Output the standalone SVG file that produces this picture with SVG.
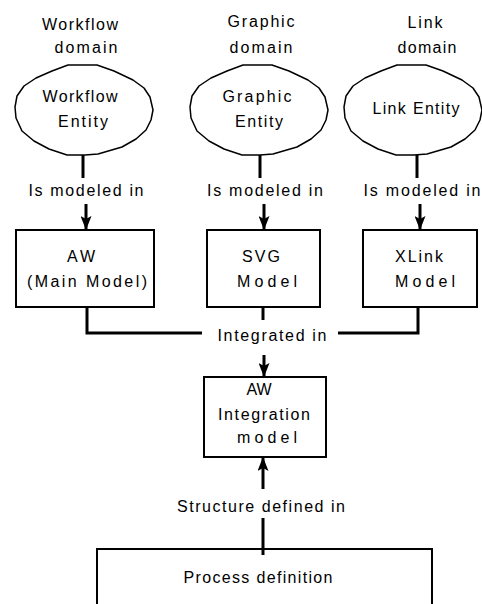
<svg xmlns="http://www.w3.org/2000/svg" width="482" height="604" viewBox="0 0 482 604">
<style>
text{font-family:"Liberation Sans",Arial,sans-serif;font-size:16px;fill:#000;text-anchor:middle}
.ent{fill:#fff;stroke:#000;stroke-width:1.5;stroke-linejoin:round}
.box{fill:#fff;stroke:#000;stroke-width:2}
.c{fill:none;stroke:#000;stroke-width:3}
</style>
<defs>
<marker id="ah" viewBox="0 0 14 11" refX="13" refY="5.5" markerWidth="14" markerHeight="11" orient="auto" markerUnits="userSpaceOnUse">
<path d="M0,0 L14,5.5 L0,11 L3,5.5 z" fill="#000"/>
</marker>
<path id="blob" d="M-16,-45 L13,-45 L30,-39 L49,-30 L60,-22 L66,-13 L69,0 L67,10 L62,20 L52,29 L38,37 L14,44 L1,45 L-17,45 L-35,39 L-50,31 L-62,21 L-68,8 L-69,-3 L-67,-14 L-60,-24 L-48,-32 L-32,-39 Z"/>
</defs>
<rect width="482" height="604" fill="#fff"/>
<g id="domain-workflow">
<text x="80" y="30" textLength="76" lengthAdjust="spacing">Workflow</text>
<text x="86" y="53" textLength="63" lengthAdjust="spacing">domain</text>
<use href="#blob" class="ent" x="84" y="110"/>
<text x="80" y="102" textLength="75" lengthAdjust="spacing">Workflow</text>
<text x="83" y="127" textLength="50" lengthAdjust="spacing">Entity</text>
</g>
<g id="domain-graphic">
<text x="261" y="27" textLength="67" lengthAdjust="spacing">Graphic</text>
<text x="261" y="53" textLength="63" lengthAdjust="spacing">domain</text>
<use href="#blob" class="ent" x="259" y="110"/>
<text x="257" y="102" textLength="69" lengthAdjust="spacing">Graphic</text>
<text x="259" y="127" textLength="48" lengthAdjust="spacing">Entity</text>
</g>
<g id="domain-link">
<text x="425" y="28" textLength="35" lengthAdjust="spacing">Link</text>
<text x="427" y="53" textLength="59" lengthAdjust="spacing">domain</text>
<use href="#blob" class="ent" x="413" y="110"/>
<text x="416" y="114" textLength="87" lengthAdjust="spacing">Link Entity</text>
</g>
<g id="aw-main">
<rect class="box" x="16" y="230" width="138" height="77"/>
<text x="81" y="262" textLength="28" lengthAdjust="spacing">AW</text>
<text x="87" y="287" textLength="120" lengthAdjust="spacing">(Main Model)</text>
</g>
<g id="svg-model">
<rect class="box" x="207" y="230" width="113" height="77"/>
<text x="261" y="262" textLength="38" lengthAdjust="spacing">SVG</text>
<text x="267" y="287" textLength="60" lengthAdjust="spacing">Model</text>
</g>
<g id="xlink-model">
<rect class="box" x="363" y="230" width="114" height="77"/>
<text x="419" y="262" textLength="48" lengthAdjust="spacing">XLink</text>
<text x="425" y="287" textLength="60" lengthAdjust="spacing">Model</text>
</g>
<g id="aw-integration">
<rect class="box" x="204" y="377" width="122" height="80"/>
<text x="259" y="395" textLength="25" lengthAdjust="spacing">AW</text>
<text x="264" y="420" textLength="92" lengthAdjust="spacing">Integration</text>
<text x="267" y="443" textLength="60" lengthAdjust="spacing">model</text>
</g>
<g id="process-definition">
<path class="box" d="M97,604 L97,549 L432,549 L432,604"/>
<text x="258" y="583" textLength="149" lengthAdjust="spacing">Process definition</text>
</g>
<g id="connectors">
<path class="c" d="M83,155 V178"/>
<path class="c" d="M260,155 V178"/>
<path class="c" d="M417,155 V178"/>
<text x="86" y="196" textLength="115" lengthAdjust="spacing">Is modeled in</text>
<text x="265" y="196" textLength="116" lengthAdjust="spacing">Is modeled in</text>
<text x="422" y="196" textLength="117" lengthAdjust="spacing">Is modeled in</text>
<path class="c" d="M86,204 V229" marker-end="url(#ah)"/>
<path class="c" d="M264,204 V229" marker-end="url(#ah)"/>
<path class="c" d="M420,204 V229" marker-end="url(#ah)"/>
<path class="c" d="M87,307 V333 H202"/>
<path class="c" d="M263,307 V320"/>
<path class="c" d="M338,333 H418 V307"/>
<text x="272" y="341" textLength="109" lengthAdjust="spacing">Integrated in</text>
<path class="c" d="M264,355 V376" marker-end="url(#ah)"/>
<path class="c" d="M263,489 V458" marker-end="url(#ah)"/>
<text x="261" y="512" textLength="168" lengthAdjust="spacing">Structure defined in</text>
<path class="c" d="M263,518 V555"/>
</g>
</svg>
